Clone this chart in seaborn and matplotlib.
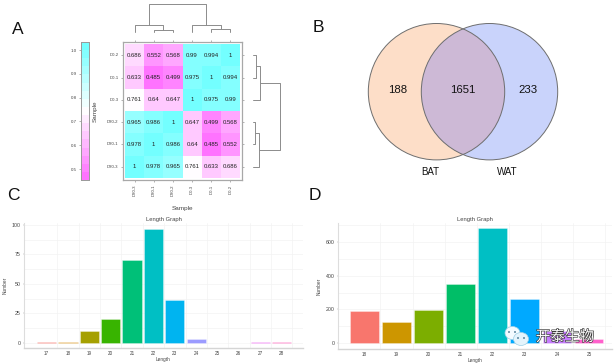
import numpy as np
import pandas as pd
import matplotlib
matplotlib.use('Agg')
import matplotlib.pyplot as plt
import matplotlib.patheffects as pe
from matplotlib.colors import LinearSegmentedColormap, ListedColormap
from matplotlib.patches import Circle, Ellipse
import seaborn as sns

# Panel A data
row_names = ['D0-2', 'D0-1', 'D0-3', 'D30-2', 'D30-1', 'D30-3']
col_names = ['D30-3', 'D30-1', 'D30-2', 'D0-3', 'D0-1', 'D0-2']
corr_values = [
    [0.686, 0.552, 0.568, 0.99, 0.994, 1],
    [0.633, 0.485, 0.499, 0.975, 1, 0.994],
    [0.761, 0.64, 0.647, 1, 0.975, 0.99],
    [0.965, 0.986, 1, 0.647, 0.499, 0.568],
    [0.978, 1, 0.986, 0.64, 0.485, 0.552],
    [1, 0.978, 0.965, 0.761, 0.633, 0.686],
]
# merges as (node, node, height), new nodes numbered from 6 like a linkage table
top_merges = [(1, 2, 30), (0, 6, 24.7), (4, 5, 28.5), (3, 8, 24.5), (7, 9, 4)]
right_merges = [(0, 1, 256), (6, 2, 259.7), (3, 4, 254.7), (8, 5, 259.3), (7, 9, 280)]

# Panel B data
venn_labels = ['BAT', 'WAT']
venn_counts = [188, 1651, 233]

# Panel C data
c_lengths = ['17', '18', '19', '20', '21', '22', '23', '24', '25', '26', '27', '28']
c_numbers = [1, 1, 10, 20, 70, 97, 36, 3, 0, 0, 1, 1]
c_colors = ['#F8766D', '#DE9A20', '#A5A000', '#38B400', '#00C078', '#00BFC4',
            '#00B4F0', '#9B9BFF', '#D089FF', '#E070F0', '#F06EF5', '#FF64BE']

# Panel D data
d_lengths = ['18', '19', '20', '21', '22', '23', '24', '25']
d_numbers = [190, 123, 195, 350, 685, 262, 70, 22]
d_colors = ['#F8766D', '#CD9600', '#7CAE00', '#00BE67', '#00BFC4', '#00A9FF', '#C77CFF', '#FF61CC']

W, H = 614, 363

sns.set_theme(style='white')
plt.rcParams['font.family'] = ['Liberation Sans', 'DejaVu Sans']
plt.rcParams['axes.unicode_minus'] = False

fig = plt.figure(figsize=(W / 100, H / 100), dpi=100)


def px_axes(x0, y0, x1, y1):
    # axes box given in image pixels, y going down
    return fig.add_axes([x0 / W, 1 - y1 / H, (x1 - x0) / W, (y1 - y0) / H])


def draw_dendro(ax, merges, leaf, vertical=True):
    # walks the merge table, positions are leaf centres
    pos = {i: i + 0.5 for i in range(6)}
    hgt = {i: leaf for i in range(6)}
    for n, (a, b, h) in enumerate(merges):
        xs = [pos[a], pos[a], pos[b], pos[b]]
        ys = [hgt[a], h, h, hgt[b]]
        if vertical:
            ax.plot(xs, ys, color='#8c8c8c', lw=0.7)
        else:
            ax.plot(ys, xs, color='#8c8c8c', lw=0.7)
        pos[6 + n] = (pos[a] + pos[b]) / 2
        hgt[6 + n] = h


# A: heatmap with stepped colour bar, white sits near 0.75
ramp = LinearSegmentedColormap.from_list(
    'mw', [(0, '#FF73FF'), (0.51, '#FFFFFF'), (1, '#73FFFF')])
step_cmap = ListedColormap(ramp(np.linspace(0, 1, 17)))

ax_a = px_axes(123, 42, 242, 180)
ax_cb = px_axes(81, 42, 89, 180)
df_corr = pd.DataFrame(corr_values, index=row_names, columns=col_names)
sns.heatmap(df_corr, ax=ax_a, cbar_ax=ax_cb, cmap=step_cmap, vmin=0.454, vmax=1.034,
            annot=True, fmt='.3g', annot_kws={'fontsize': 4.3, 'color': '#222222'})
ax_a.set_xlim(-0.1, 6.1)
ax_a.set_ylim(6.1, -0.1)
for s in ax_a.spines.values():
    s.set_visible(True)
    s.set_color('#a8a8a8')
    s.set_linewidth(0.9)
ax_a.tick_params(axis='both', length=1.7, width=0.4, color='#777777', labelsize=3.1,
                 labelcolor='#444444', pad=1.5, top=True, right=True, bottom=True, left=True)
ax_a.set_xticklabels(col_names, rotation=90)
ax_a.set_yticklabels(row_names, rotation=0)
ax_a.set_xlabel('Sample', fontsize=4.6, color='#444444')
ax_a.xaxis.set_label_coords(0.5, -0.188)
ax_a.set_ylabel('Sample', fontsize=4.6, color='#444444')
ax_a.yaxis.set_label_coords(-0.21, 0.5)

ax_cb.yaxis.tick_left()
ax_cb.set_yticks([0.5, 0.6, 0.7, 0.8, 0.9, 1.0])
ax_cb.tick_params(length=1.5, width=0.4, color='#777777', labelsize=3.2, labelcolor='#444444', pad=1.5)
for s in ax_cb.spines.values():
    s.set_visible(True)
    s.set_color('#9a9a9a')
    s.set_linewidth(0.6)

ax_top = px_axes(123, 0, 242, 42)
ax_top.set_xlim(-0.1, 6.1)
ax_top.set_ylim(42, 0)
draw_dendro(ax_top, top_merges, 31.5, vertical=True)
ax_top.set_axis_off()

ax_right = px_axes(242, 42, 290, 180)
ax_right.set_xlim(242, 290)
ax_right.set_ylim(6.1, -0.1)
draw_dendro(ax_right, right_merges, 253.3, vertical=False)
ax_right.set_axis_off()


# C and D: length bars
def length_bars(box, lengths, numbers, colors, ylim, xlim, yticks, minor, ylab_x):
    ax = px_axes(*box)
    df = pd.DataFrame({'Length': lengths, 'Number': numbers})
    sns.barplot(data=df, x='Length', y='Number', hue='Length', palette=colors, ax=ax,
                width=0.9, saturation=1, legend=False, zorder=3,
                edgecolor=(1, 1, 1, 0.45), linewidth=0.5)
    ax.set_xlim(*xlim)
    ax.set_ylim(*ylim)
    ax.set_yticks(yticks)
    ax.set_yticks(minor, minor=True)
    ax.set_xticks(np.arange(len(lengths)) + 0.5, minor=True)
    ax.grid(which='both', color='#f3f3f3', lw=0.5, zorder=0)
    ax.xaxis.grid(False, which='major')
    sns.despine(ax=ax)
    ax.spines['left'].set_color('#dddddd')
    ax.spines['left'].set_linewidth(0.8)
    ax.spines['bottom'].set_color('#d5d5d5')
    ax.spines['bottom'].set_linewidth(1.0)
    ax.tick_params(which='major', length=1, width=0.3, color='#999999', pad=1.2, bottom=True, left=True)
    ax.tick_params(which='minor', length=0)
    ax.tick_params(axis='x', labelsize=3.3, labelcolor='#444444')
    ax.tick_params(axis='y', labelsize=3.8, labelcolor='#444444')
    ax.set_title('Length Graph', fontsize=4.2, color='#444444', pad=1.5)
    ax.set_xlabel('Length', fontsize=3.4, color='#444444')
    ax.xaxis.set_label_coords(0.5, -0.075)
    ax.set_ylabel('Number', fontsize=3.4, color='#444444')
    ax.yaxis.set_label_coords(ylab_x, 0.5)
    return ax


length_bars((24, 223, 303, 348), c_lengths, c_numbers, c_colors,
            (-4.5, 101.7), (-1.06, 12.0), [0, 25, 50, 75, 100],
            [12.5, 37.5, 62.5, 87.5], -0.06)
length_bars((337.5, 223, 611.5, 349), d_lengths, d_numbers, d_colors,
            (-36, 714), (-0.84, 7.7), [0, 200, 400, 600],
            [100, 300, 500, 700], -0.058)

# overlay in image pixels for the venn, panel letters and watermark
ov = px_axes(0, 0, W, H)
ov.set_xlim(0, W)
ov.set_ylim(H, 0)
ov.set_axis_off()
ov.patch.set_alpha(0)

left_c = Circle((436.5, 91.7), 68.2, fc='#FDDEC8', ec='none')
right_c = Circle((489.5, 91.7), 68.2, fc='#C9D3FB', ec='none')
ov.add_patch(left_c)
ov.add_patch(right_c)
both = Circle((436.5, 91.7), 68.2, fc='#CDB9D6', ec='none')
ov.add_patch(both)
both.set_clip_path(Circle((489.5, 91.7), 68.2, transform=ov.transData))
ov.add_patch(Circle((436.5, 91.7), 68.2, fc='none', ec='#6e6e6e', lw=0.7))
ov.add_patch(Circle((489.5, 91.7), 68.2, fc='none', ec='#6e6e6e', lw=0.7))

for x, n in zip([398, 463, 528], venn_counts):
    ov.text(x, 90, str(n), ha='center', va='center', fontsize=8.2, color='#111111')
for x, s in zip([430, 507], venn_labels):
    ov.text(x, 172, s, ha='center', va='center', fontsize=7, color='#111111')

for x, y, s in [(18, 30, 'A'), (318.5, 28, 'B'), (13.5, 195, 'C'), (315, 195, 'D')]:
    ov.text(x, y, s, ha='center', va='center', fontsize=12.5, color='#111111')

# watermark
ov.add_patch(Ellipse((512.5, 333), 15, 13, fc='#f4fbff', ec='#9fd0e6', lw=0.5, zorder=5))
ov.add_patch(Ellipse((521, 339), 15, 13, fc='#e4f4fc', ec='#9fd0e6', lw=0.5, zorder=6))
for x, y in [(509, 332), (515, 332), (518, 338), (524, 338)]:
    ov.add_patch(Circle((x, y), 0.9, fc='#3c6f8c', ec='none', zorder=7))
ov.text(565, 337, '开泰生物', ha='center', va='center', fontsize=10.5, color='white', zorder=8,
        family=['Noto Sans CJK SC', 'DejaVu Sans'],
        path_effects=[pe.withStroke(linewidth=0.9, foreground='#333333')])

fig.savefig('out.png', dpi=100)
